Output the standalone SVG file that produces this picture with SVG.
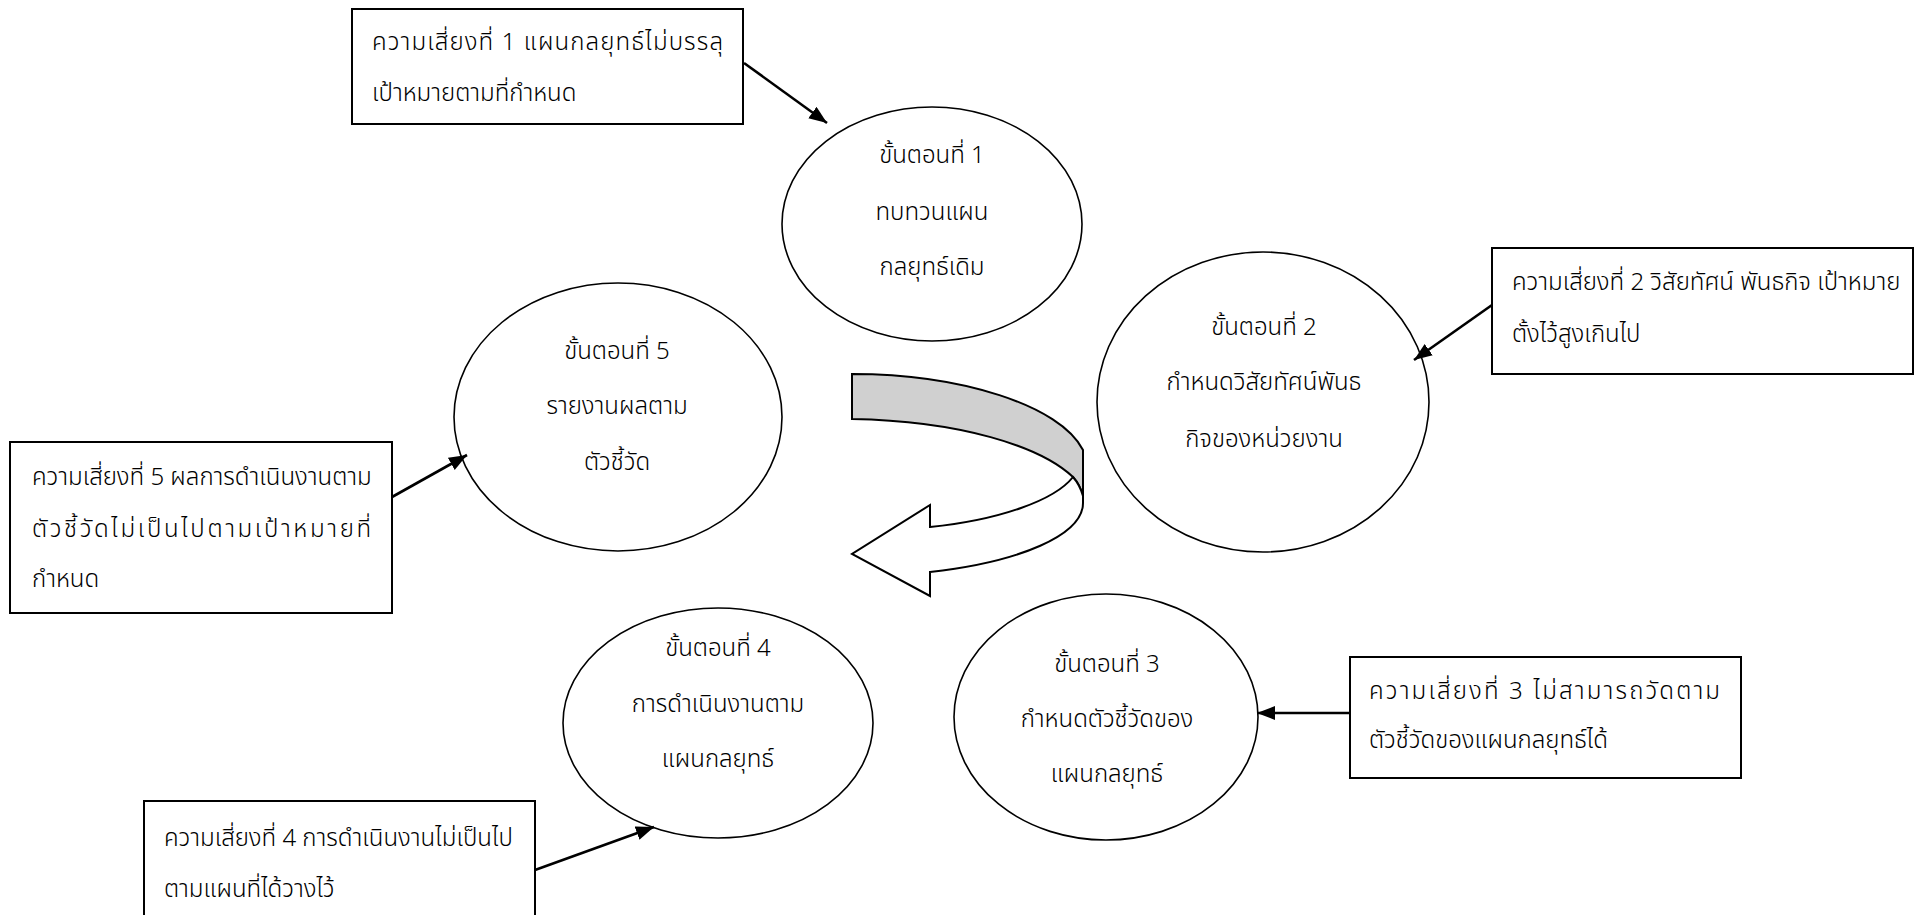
<svg xmlns="http://www.w3.org/2000/svg" width="1915" height="915" viewBox="0 0 1915 915">
<defs>
<style>
text{font-family:"Noto Sans Thai","Tahoma","Noto Sans","DejaVu Sans",sans-serif;font-size:24px;font-weight:300;fill:#000}
.c{text-anchor:middle}
.box{fill:#fff;stroke:#000;stroke-width:2}
.step{fill:#fff;stroke:#000;stroke-width:1.6}
.con{stroke:#000;stroke-width:2.6;fill:none}
</style>
<marker id="ah" markerUnits="userSpaceOnUse" markerWidth="20" markerHeight="16" refX="18" refY="7" orient="auto">
<path d="M0,0 L18,7 L0,14 Z" fill="#000"/>
</marker>
</defs>
<rect width="1915" height="915" fill="#fff"/>

<g id="turn-arrow">
<path d="M852,374 C960,374 1060,405 1083,450 L1083,496 Q1080,485 1073,477 C1040,446 960,421 852,419 Z" fill="#d0d0d0" stroke="#000" stroke-width="2"/>
<path d="M1073,477 Q1080,485 1083,496 L1083,503 C1083,535 1020,562 930,572 L930,596 L852,554 L930,505 L930,527 C1000,520 1055,500 1073,477 Z" fill="#fff" stroke="#000" stroke-width="2"/>
</g>

<g id="step1">
<ellipse class="step" cx="932" cy="224" rx="150" ry="117"/>
<text class="c" x="932" y="163">ขั้นตอนที่ 1</text>
<text class="c" x="932" y="220">ทบทวนแผน</text>
<text class="c" x="932" y="275">กลยุทธ์เดิม</text>
</g>

<g id="step2">
<ellipse class="step" cx="1263" cy="402" rx="166" ry="150"/>
<text class="c" x="1264" y="335">ขั้นตอนที่ 2</text>
<text class="c" x="1264" y="390">กำหนดวิสัยทัศน์พันธ</text>
<text class="c" x="1264" y="447">กิจของหน่วยงาน</text>
</g>

<g id="step3">
<ellipse class="step" cx="1106" cy="717" rx="152" ry="123"/>
<text class="c" x="1107" y="672">ขั้นตอนที่ 3</text>
<text class="c" x="1107" y="727">กำหนดตัวชี้วัดของ</text>
<text class="c" x="1107" y="782">แผนกลยุทธ์</text>
</g>

<g id="step4">
<ellipse class="step" cx="718" cy="723" rx="155" ry="115"/>
<text class="c" x="718" y="656">ขั้นตอนที่ 4</text>
<text class="c" x="718" y="712">การดำเนินงานตาม</text>
<text class="c" x="718" y="767">แผนกลยุทธ์</text>
</g>

<g id="step5">
<ellipse class="step" cx="618" cy="417" rx="164" ry="134"/>
<text class="c" x="617" y="359">ขั้นตอนที่ 5</text>
<text class="c" x="617" y="414">รายงานผลตาม</text>
<text class="c" x="617" y="470">ตัวชี้วัด</text>
</g>

<g id="risk1">
<rect class="box" x="352" y="9" width="391" height="115"/>
<text x="372" y="50" textLength="351">ความเสี่ยงที่ 1 แผนกลยุทธ์ไม่บรรลุ</text>
<text x="372" y="101">เป้าหมายตามที่กำหนด</text>
</g>

<g id="risk2">
<rect class="box" x="1492" y="248" width="421" height="126"/>
<text x="1512" y="290">ความเสี่ยงที่ 2 วิสัยทัศน์ พันธกิจ เป้าหมาย</text>
<text x="1512" y="342">ตั้งไว้สูงเกินไป</text>
</g>

<g id="risk3">
<rect class="box" x="1350" y="657" width="391" height="121"/>
<text x="1369" y="699" textLength="351">ความเสี่ยงที่ 3 ไม่สามารถวัดตาม</text>
<text x="1369" y="748">ตัวชี้วัดของแผนกลยุทธ์ได้</text>
</g>

<g id="risk4">
<rect class="box" x="144" y="801" width="391" height="130"/>
<text x="164" y="846">ความเสี่ยงที่ 4 การดำเนินงานไม่เป็นไป</text>
<text x="164" y="897">ตามแผนที่ได้วางไว้</text>
</g>

<g id="risk5">
<rect class="box" x="10" y="442" width="382" height="171"/>
<text x="32" y="485">ความเสี่ยงที่ 5 ผลการดำเนินงานตาม</text>
<text x="32" y="537" textLength="339">ตัวชี้วัดไม่เป็นไปตามเป้าหมายที่</text>
<text x="32" y="587">กำหนด</text>
</g>

<g id="connectors">
<line class="con" x1="744" y1="63" x2="827" y2="123" marker-end="url(#ah)"/>
<line class="con" x1="1492" y1="305" x2="1414" y2="360" marker-end="url(#ah)"/>
<line class="con" x1="1350" y1="713" x2="1257" y2="713" marker-end="url(#ah)"/>
<line class="con" x1="535" y1="870" x2="654" y2="827" marker-end="url(#ah)"/>
<line class="con" x1="392" y1="497" x2="467" y2="455" marker-end="url(#ah)"/>
</g>
</svg>
